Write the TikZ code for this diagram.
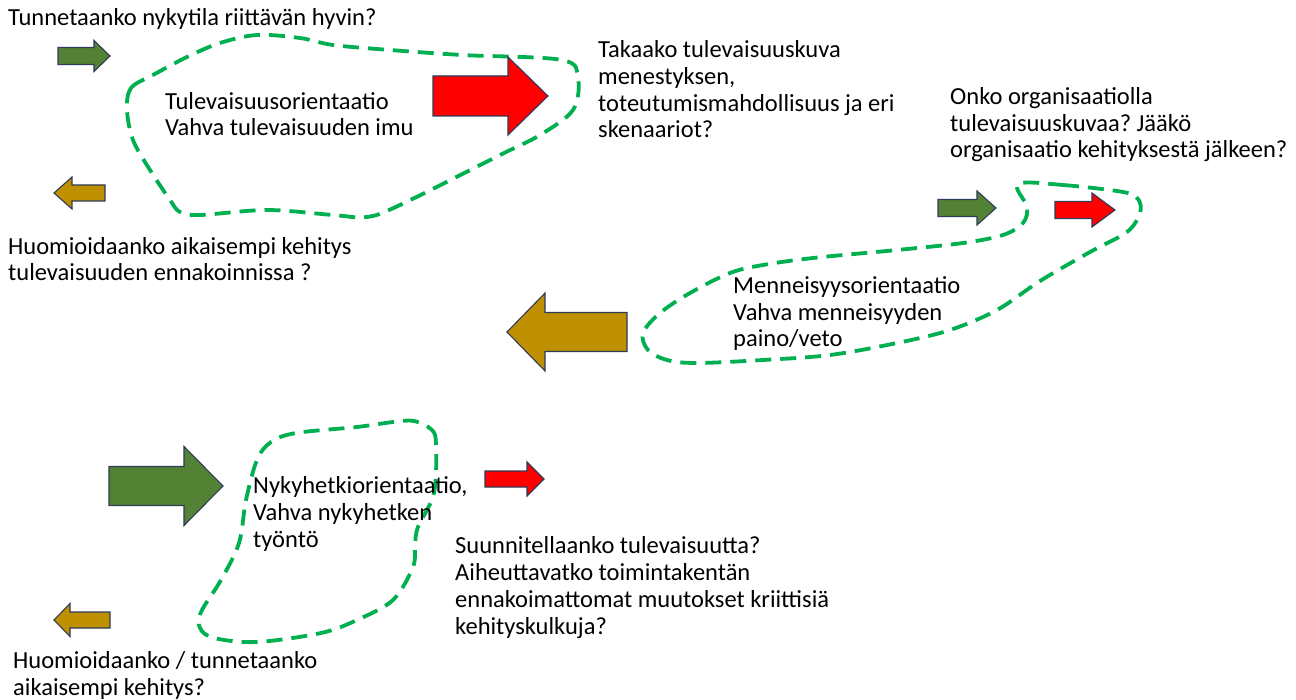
\documentclass[tikz,border=0pt]{standalone}
\usepackage{fontspec}
\setmainfont{Carlito}
\frenchspacing
\definecolor{arrgreen}{HTML}{548235}
\definecolor{arrgold}{HTML}{BF9000}
\definecolor{arrred}{HTML}{FF0000}
\definecolor{arredge}{HTML}{2F3B5A}
\definecolor{loopgreen}{HTML}{00B050}
% block arrow: tail x, head base x, tip x, centre y, half shaft, half head
\newcommand\blockarr[7][]{%
  \draw[blockarrow,#1] (#2,#5-#6) -- (#3,#5-#6) -- (#3,#5-#7) -- (#4,#5)
    -- (#3,#5+#7) -- (#3,#5+#6) -- (#2,#5+#6) -- cycle;}
\begin{document}
\begin{tikzpicture}[x=1pt,y=-1pt,
  blockarrow/.style={draw=arredge,line width=1.1pt,line join=miter},
  loop/.style={draw=loopgreen,line width=3.8pt,dash pattern=on 16pt off 9pt},
  % anchored at the baseline of the last line
  question/.style={anchor=base west,inner sep=0pt,align=left,
    font=\fontsize{24.5}{26.8}\selectfont},
]
\useasboundingbox[fill=white] (0,0) rectangle (1296,700);

% dashed orientation loops
\draw[loop] plot[smooth cycle,tension=0.55] coordinates {
  (127,110) (131,88) (153,75) (187,57) (220,43) (257,35) (300,38) (333,45)
  (390,50) (462,55) (562,60) (578,78) (573,110) (540,135) (500,155)
  (400,205) (367,217) (333,215) (267,210) (200,215) (180,212) (170,200)
  (150,170) (133,140)};
\draw[loop] plot[smooth cycle,tension=0.55] coordinates {
  (1018,184) (1063,185) (1123,192) (1138,199) (1140,213) (1127,232)
  (1090,252) (1040,281) (997,310) (950,330) (897,343) (830,355) (763,360)
  (697,363) (667,360) (648,350) (643,333) (660,313) (690,293) (730,273)
  (763,265) (813,258) (897,250) (963,243) (1003,235) (1023,223) (1027,207)};
\draw[loop] plot[smooth cycle,tension=0.55] coordinates {
  (414,421) (432,430) (436,445) (434,493) (418,527) (415,545) (413,567)
  (393,600) (357,620) (321,633) (257,642) (214,638) (200,628) (201,612)
  (221,580) (239,543) (246,500) (257,460) (271,442) (296,433) (357,427)
  (393,422)};

% block arrows
\blockarr[fill=arrgreen]{58}{94}{110}{56}{8.5}{15.5}
\blockarr[fill=arrgold]{105}{72}{54}{193}{8}{16}
\blockarr[fill=arrred]{433}{508}{548}{96}{20}{39}
\blockarr[fill=arrgreen]{938}{977}{996}{208}{8.5}{17}
\blockarr[fill=arrred]{1055}{1092}{1115}{210}{8.5}{17}
\blockarr[fill=arrgold]{627}{545}{507}{332}{19.5}{39}
\blockarr[fill=arrgreen]{109}{184}{223}{486}{19.5}{39.5}
\blockarr[fill=arrred]{485}{527}{544}{479}{8}{17}
\blockarr[fill=arrgold]{110}{70}{54}{620}{8}{16.5}

% texts
\node[question] (q1) at (8,26) {Tunnetaanko nykytila riittävän hyvin?};
\node[question] (fut) at (165,136) {Tulevaisuusorientaatio\\Vahva tulevaisuuden imu};
\node[question] (q2) at (598,138) {Takaako tulevaisuuskuva\\menestyksen,\\toteutumismahdollisuus ja eri\\skenaariot?};
\node[question] (q3) at (950,158) {Onko organisaatiolla\\tulevaisuuskuvaa? Jääkö\\organisaatio kehityksestä jälkeen?};
\node[question] (q4) at (8,281) {Huomioidaanko aikaisempi kehitys\\tulevaisuuden ennakoinnissa ?};
\node[question] (past) at (733,347) {Menneisyysorientaatio\\Vahva menneisyyden\\paino/veto};
\node[question] (now) at (253,547) {Nykyhetkiorientaatio,\\Vahva nykyhetken\\työntö};
\node[question] (q5) at (455,634) {Suunnitellaanko tulevaisuutta?\\Aiheuttavatko toimintakentän\\ennakoimattomat muutokset kriittisiä\\kehityskulkuja?};
\node[question] (q6) at (13,695) {Huomioidaanko / tunnetaanko\\aikaisempi kehitys?};
\end{tikzpicture}
\end{document}
